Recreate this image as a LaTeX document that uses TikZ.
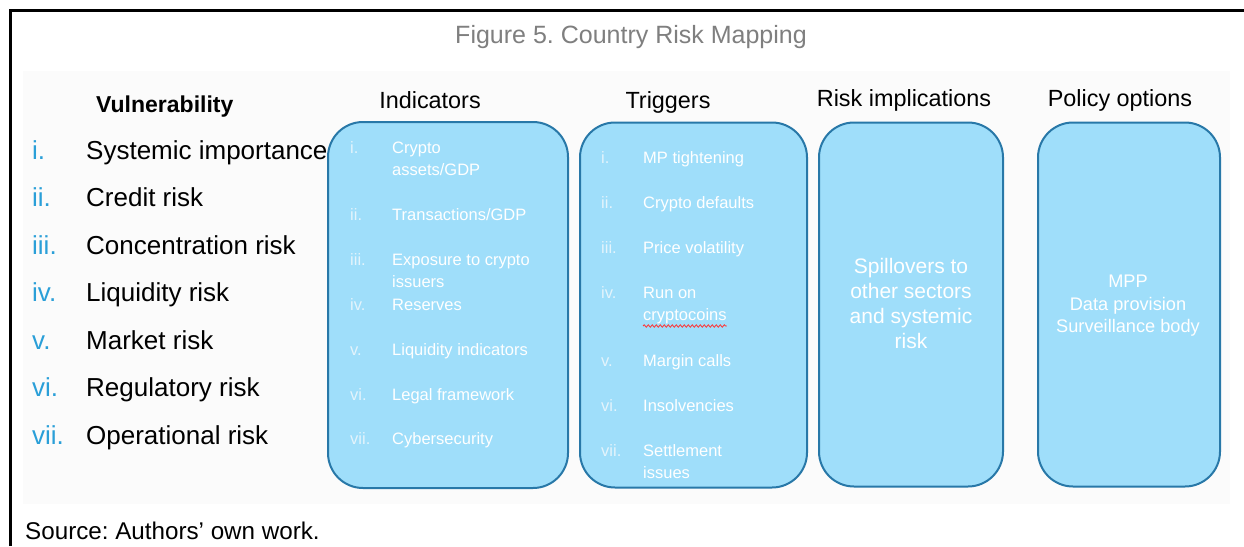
\documentclass[tikz,border=0pt]{standalone}
\usepackage{fontspec}
\setmainfont{Liberation Sans}
\frenchspacing
\usetikzlibrary{decorations.pathmorphing}
\definecolor{boxfill}{HTML}{9FDEFA}
\definecolor{boxline}{HTML}{2878A8}
\definecolor{vblue}{HTML}{2A9FD8}
\definecolor{titlegray}{HTML}{7F7F7F}
\definecolor{numcol}{HTML}{E4F4FC}
\definecolor{bgray}{HTML}{FBFBFB}
\tikzset{
 box/.style={draw=boxline, line width=2pt, fill=boxfill, rounded corners=35pt, inner sep=0pt, outer sep=0pt},
 head/.style={anchor=base, font=\fontsize{23.4}{28}\selectfont, text=black, inner sep=0pt},
 vnum/.style={anchor=base west, text=vblue, font=\fontsize{26}{30}\selectfont, inner sep=0pt},
 vtxt/.style={anchor=base west, text=black, font=\fontsize{26}{30}\selectfont, inner sep=0pt},
 bnum/.style={anchor=base west, text=numcol, font=\fontsize{16.5}{20}\selectfont, inner sep=0pt},
 btxt/.style={anchor=base west, text=white, font=\fontsize{16.5}{20}\selectfont, inner sep=0pt},
 rtxt/.style={anchor=base, text=white, font=\fontsize{21}{25}\selectfont, inner sep=0pt},
 ptxt/.style={anchor=base, text=white, font=\fontsize{18.2}{22}\selectfont, inner sep=0pt},
}
\begin{document}
\begin{tikzpicture}[x=1pt,y=-1pt]
\useasboundingbox (0,0) rectangle (1244,546);
\fill[white] (0,0) rectangle (1244,546);
\fill[bgray] (23,71) rectangle (1230,504);
\draw[line width=3pt] (10,546) -- (10,10) -- (1244,10);
\node[anchor=base, text=titlegray, font=\fontsize{25}{30}\selectfont, inner sep=0pt] (title) at (631,43) {Figure 5. Country Risk Mapping};
\node[anchor=base west, font=\fontsize{24.2}{29}\selectfont, inner sep=0pt] (src) at (25,539) {Source: Authors’ own work.};
% Vulnerability
\node[anchor=base west, font=\bfseries\fontsize{23}{28}\selectfont, inner sep=0pt] (vh) at (96,112) {Vulnerability};
\foreach \n/\t/\y [count=\k] in {i./Systemic importance/159, ii./Credit risk/206.5, iii./Concentration risk/254, iv./Liquidity risk/301.5, v./Market risk/349, vi./Regulatory risk/396.5, vii./Operational risk/444}{
  \node[vnum] (vn\k) at (32,\y) {\n};
  \node[vtxt] (vt\k) at (86,\y) {\t};
}
% boxes
\node[box, minimum width=240pt, minimum height=366pt] (ind) at (448,305) {};
\node[box, minimum width=227pt, minimum height=365pt] (trg) at (693.5,305) {};
\node[box, minimum width=184pt, minimum height=364pt] (rsk) at (911,304.5) {};
\node[box, minimum width=182pt, minimum height=364pt] (pol) at (1129,304.5) {};
% headings
\node[head] (hind) at (430,108) {Indicators};
\node[head] (htrg) at (668,108) {Triggers};
\node[head] (hrsk) at (904,106) {Risk implications};
\node[head] (hpol) at (1120,106) {Policy options};
% indicators
\node[bnum] (in1) at (350,153) {i.};
\node[btxt] (it1a) at (392,153) {Crypto};
\node[btxt] (it1b) at (392,175) {assets/GDP};
\node[bnum] (in2) at (350,220) {ii.};
\node[btxt] (it2) at (392,220) {Transactions/GDP};
\node[bnum] (in3) at (350,265) {iii.};
\node[btxt] (it3a) at (392,265) {Exposure to crypto};
\node[btxt] (it3b) at (392,287) {issuers};
\node[bnum] (in4) at (350,310) {iv.};
\node[btxt] (it4) at (392,310) {Reserves};
\node[bnum] (in5) at (350,355) {v.};
\node[btxt] (it5) at (392,355) {Liquidity indicators};
\node[bnum] (in6) at (350,400) {vi.};
\node[btxt] (it6) at (392,400) {Legal framework};
\node[bnum] (in7) at (350,444) {vii.};
\node[btxt] (it7) at (392,444) {Cybersecurity};
% triggers
\node[bnum] (tn1) at (601,163) {i.};
\node[btxt] (tt1) at (643,163) {MP tightening};
\node[bnum] (tn2) at (601,208) {ii.};
\node[btxt] (tt2) at (643,208) {Crypto defaults};
\node[bnum] (tn3) at (601,253) {iii.};
\node[btxt] (tt3) at (643,253) {Price volatility};
\node[bnum] (tn4) at (601,298) {iv.};
\node[btxt] (tt4a) at (643,298) {Run on};
\node[btxt] (tt4b) at (643,320) {cryptocoins};
\node[bnum] (tn5) at (601,366) {v.};
\node[btxt] (tt5) at (643,366) {Margin calls};
\node[bnum] (tn6) at (601,411) {vi.};
\node[btxt] (tt6) at (643,411) {Insolvencies};
\node[bnum] (tn7) at (601,456) {vii.};
\node[btxt] (tt7a) at (643,456) {Settlement};
\node[btxt] (tt7b) at (643,478) {issues};
\draw[red!80!white, line width=0.8pt, decorate, decoration={snake, amplitude=1.2pt, segment length=4pt}] ([yshift=-6pt]tt4b.base west) -- ([yshift=-6pt]tt4b.base east);
% risk implications
\node[rtxt] (r1) at (911,273) {Spillovers to};
\node[rtxt] (r2) at (911,298) {other sectors};
\node[rtxt] (r3) at (911,323) {and systemic};
\node[rtxt] (r4) at (911,348) {risk};
% policy
\node[ptxt] (p1) at (1128,287) {MPP};
\node[ptxt] (p2) at (1128,310) {Data provision};
\node[ptxt] (p3) at (1128,332) {Surveillance body};
\end{tikzpicture}
\end{document}
